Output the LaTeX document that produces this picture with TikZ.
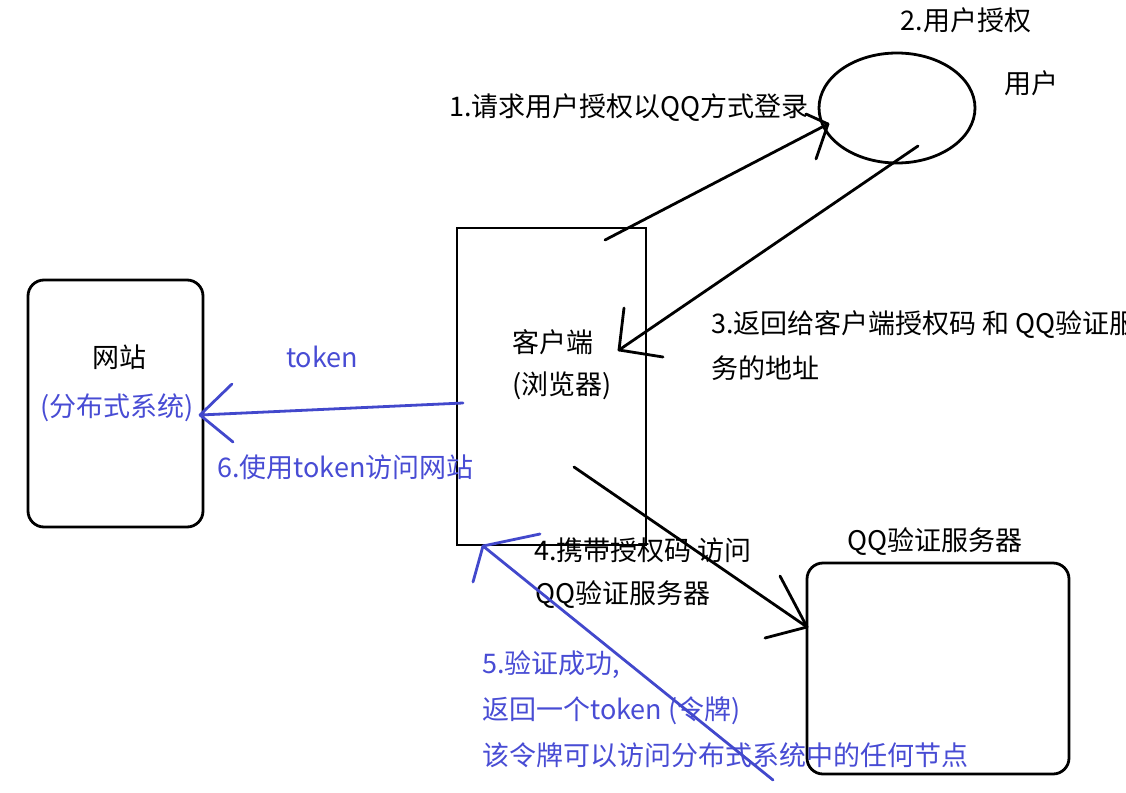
\documentclass[tikz,border=0pt]{standalone}
\usepackage{fontspec}
\setmainfont{Noto Sans CJK SC}
\usetikzlibrary{shapes.geometric}
\definecolor{penblue}{RGB}{66,72,204}
\definecolor{txtblue}{RGB}{72,76,212}
\begin{document}
\begin{tikzpicture}[x=1pt,y=-1pt,
  ink/.style={line width=2.8pt, line cap=round, black},
  bink/.style={line width=2.8pt, line cap=round, penblue},
  box/.style={draw, line width=2.8pt, inner sep=0pt, outer sep=0pt},
  lbl/.style={inner sep=0pt, font=\fontsize{27}{32}\selectfont, text=black},
  blbl/.style={lbl, text=txtblue}]
\useasboundingbox (0,0) rectangle (1126,792);
\begin{scope}
\clip (0,0) rectangle (1126,792);
% boxes
\node[box, rounded corners=16pt, minimum width=175pt, minimum height=247pt] (web) at (115.5,403.5) {};
\node[box, minimum width=189pt, minimum height=317pt] (client) at (551.5,386.5) {};
\node[box, rounded corners=16pt, minimum width=262pt, minimum height=211pt] (qq) at (938,668.5) {};
\node[box, ellipse, minimum width=156pt, minimum height=110pt] (user) at (897,108) {};

% labels
\node[lbl] (t2) at (966,20) {2.用户授权};
\node[lbl, anchor=west] (tuser) at (1004,83) {用户};
\node[lbl, anchor=west] (t1) at (449,108) {1.请求用户授权以QQ方式登录};
\node[lbl, anchor=west] (t3a) at (711,325) {3.返回给客户端授权码 和 QQ验证服};
\node[lbl, anchor=west] (t3b) at (711,368) {务的地址};
\node[lbl] (tclient) at (553,342) {客户端};
\node[lbl] (tbrowser) at (562,386) {(浏览器)};
\node[lbl] (tweb) at (119,357) {网站};
\node[blbl] (tdist) at (117,408) {(分布式系统)};
\node[blbl] (ttoken) at (322,357) {token};
\node[blbl, anchor=west] (t6) at (217,467) {6.使用token访问网站};
\node[lbl, anchor=west] (t4a) at (534,550) {4.携带授权码 访问};
\node[lbl, anchor=west] (t4b) at (535,595) {QQ验证服务器};
\node[lbl] (tqq) at (935,542) {QQ验证服务器};
\node[blbl, anchor=west] (t5a) at (482,665) {5.验证成功,};
\node[blbl, anchor=west] (t5b) at (482,711) {返回一个token (令牌)};
\node[blbl, anchor=west] (t5c) at (482,755) {该令牌可以访问分布式系统中的任何节点};

% arrow 1
\coordinate (a1s) at (605,240);
\coordinate (a1t) at (828,124);
\coordinate (a1b1) at (806,114);
\coordinate (a1b2) at (816,159);
\draw[ink] (a1s) -- (a1t);
\draw[ink] (a1t) -- (a1b1);
\draw[ink] (a1t) -- (a1b2);

% arrow 3
\coordinate (a3s) at (918,146);
\coordinate (a3t) at (619,350);
\coordinate (a3b1) at (624,308);
\coordinate (a3b2) at (663,357);
\draw[ink] (a3s) -- (a3t);
\draw[ink] (a3t) -- (a3b1);
\draw[ink] (a3t) -- (a3b2);

% arrow 4
\coordinate (a4s) at (574,467);
\coordinate (a4t) at (807,627);
\coordinate (a4b1) at (780,576);
\coordinate (a4b2) at (765,638);
\draw[ink] (a4s) -- (a4t);
\draw[ink] (a4t) -- (a4b1);
\draw[ink] (a4t) -- (a4b2);

% arrow 5 (blue)
\coordinate (a5s) at (773,780);
\coordinate (a5t) at (483,546);
\coordinate (a5b1) at (540,534);
\coordinate (a5b2) at (473,582);
\draw[bink] (a5s) -- (a5t);
\draw[bink] (a5t) -- (a5b1);
\draw[bink] (a5t) -- (a5b2);

% arrow 6 (blue)
\coordinate (a6s) at (463,403);
\coordinate (a6t) at (200,415);
\coordinate (a6b1) at (232,384);
\coordinate (a6b2) at (233,442);
\draw[bink] (a6s) -- (a6t);
\draw[bink] (a6t) -- (a6b1);
\draw[bink] (a6t) -- (a6b2);
\end{scope}
\end{tikzpicture}
\end{document}
